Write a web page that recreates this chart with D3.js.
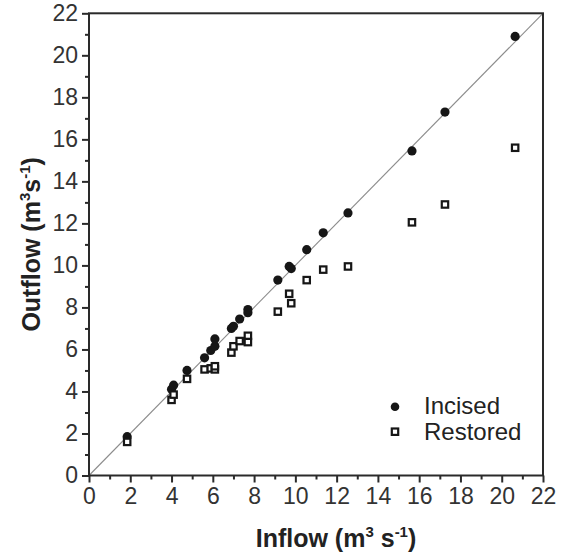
<!DOCTYPE html>
<html><head><meta charset="utf-8">
<script src="https://cdn.jsdelivr.net/npm/d3@7"></script>
<style>body{margin:0;background:#fff}svg{display:block}text{font-family:"Liberation Sans",Arial,sans-serif}</style>
</head><body><svg id="c" width="565" height="554"></svg>
<script>
const incisedInflow  = [1.85,4.0,4.1,4.75,5.6,5.9,6.1,6.1,6.9,7.0,7.3,7.7,7.7,9.15,9.7,9.8,10.55,11.35,12.55,15.65,17.25,20.65];
const incisedOutflow = [1.85,4.1,4.3,5.0,5.6,5.95,6.15,6.5,7.0,7.1,7.45,7.75,7.9,9.3,9.95,9.85,10.75,11.55,12.5,15.45,17.3,20.9];
const restoredInflow  = [1.85,4.0,4.1,4.75,5.6,5.9,6.1,6.1,6.9,7.0,7.3,7.7,7.7,9.15,9.7,9.8,10.55,11.35,12.55,15.65,17.25,20.65];
const restoredOutflow = [1.6,3.6,3.85,4.6,5.05,5.1,5.05,5.2,5.85,6.15,6.4,6.65,6.35,7.8,8.65,8.2,9.3,9.8,9.95,12.05,12.9,15.6];
const majorTicks = [0,2,4,6,8,10,12,14,16,18,20,22];
const minorTicks = [1,3,5,7,9,11,13,15,17,19,21];
const seriesNames = ["Incised","Restored"];

const svg = d3.select("#c");
const L=89,R=543,T=13.3,B=475.5;
const x = d3.scaleLinear().domain([0,22]).range([L,R]);
const y = d3.scaleLinear().domain([0,22]).range([B,T]);
const ink="#2a2a2a";

svg.append("line").attr("x1",x(0)).attr("y1",y(0)).attr("x2",x(22)).attr("y2",y(22))
  .attr("stroke","#8c8c8c").attr("stroke-width",1.1);

const xa = svg.append("g").attr("transform",`translate(0,${B})`)
  .call(d3.axisBottom(x).tickValues(majorTicks).tickSize(7).tickSizeOuter(0).tickPadding(5).tickFormat(d3.format("d")));
const ya = svg.append("g").attr("transform",`translate(${L},0)`)
  .call(d3.axisLeft(y).tickValues(majorTicks).tickSize(7).tickSizeOuter(0).tickPadding(4).tickFormat(d3.format("d")));
[xa,ya].forEach(a=>{
  a.select(".domain").remove();
  a.selectAll(".tick line").attr("stroke",ink).attr("stroke-width",2);
  a.selectAll(".tick text").attr("fill","#333").style("font-size","23px").style("font-family","'Liberation Sans',Arial,sans-serif");
});
svg.append("g").attr("transform",`translate(0,${B})`)
  .call(d3.axisBottom(x).tickValues(minorTicks).tickSize(4).tickSizeOuter(0).tickFormat(""))
  .call(g=>{g.select(".domain").remove();g.selectAll("line").attr("stroke",ink).attr("stroke-width",2);});
svg.append("g").attr("transform",`translate(${L},0)`)
  .call(d3.axisLeft(y).tickValues(minorTicks).tickSize(4).tickSizeOuter(0).tickFormat(""))
  .call(g=>{g.select(".domain").remove();g.selectAll("line").attr("stroke",ink).attr("stroke-width",2);});

svg.append("rect").attr("x",x(0)).attr("y",y(22)).attr("width",x(22)-x(0)).attr("height",y(0)-y(22))
  .attr("fill","none").attr("stroke",ink).attr("stroke-width",2);

svg.append("g").selectAll("circle").data(incisedInflow).join("circle")
  .attr("cx",d=>x(d)).attr("cy",(d,i)=>y(incisedOutflow[i])).attr("r",4.6).attr("fill","#161616");
const s=6.4;
svg.append("g").selectAll("rect").data(restoredInflow).join("rect")
  .attr("x",d=>x(d)-s/2).attr("y",(d,i)=>y(restoredOutflow[i])-s/2).attr("width",s).attr("height",s)
  .attr("fill","#fff").attr("stroke","#161616").attr("stroke-width",2.2);

const lg = svg.append("g");
lg.append("circle").attr("cx",395).attr("cy",406.7).attr("r",4.3).attr("fill","#161616");
lg.append("rect").attr("x",395-s/2).attr("y",431.7-s/2).attr("width",s).attr("height",s)
  .attr("fill","#fff").attr("stroke","#161616").attr("stroke-width",2.2);
lg.selectAll("text").data(seriesNames).join("text")
  .attr("x",424).attr("y",(d,i)=>414+i*26).attr("fill","#222").style("font-size","24px").text(d=>d);

const xt = svg.append("text").attr("x",336).attr("y",547).attr("text-anchor","middle")
  .attr("fill","#222").style("font-size","25px").style("font-weight","bold");
xt.append("tspan").text("Inflow (m");
xt.append("tspan").attr("dy",-10).style("font-size","15px").text("3");
xt.append("tspan").attr("dy",10).text(" s");
xt.append("tspan").attr("dy",-10).style("font-size","15px").text("-1");
xt.append("tspan").attr("dy",10).text(")");

const yt = svg.append("text").attr("transform",`translate(40,${(T+B)/2}) rotate(-90)`).attr("text-anchor","middle")
  .attr("fill","#222").style("font-size","25px").style("font-weight","bold");
yt.append("tspan").text("Outflow (m");
yt.append("tspan").attr("dy",-10).style("font-size","15px").text("3");
yt.append("tspan").attr("dy",10).text("s");
yt.append("tspan").attr("dy",-10).style("font-size","15px").text("-1");
yt.append("tspan").attr("dy",10).text(")");
</script></body></html>
